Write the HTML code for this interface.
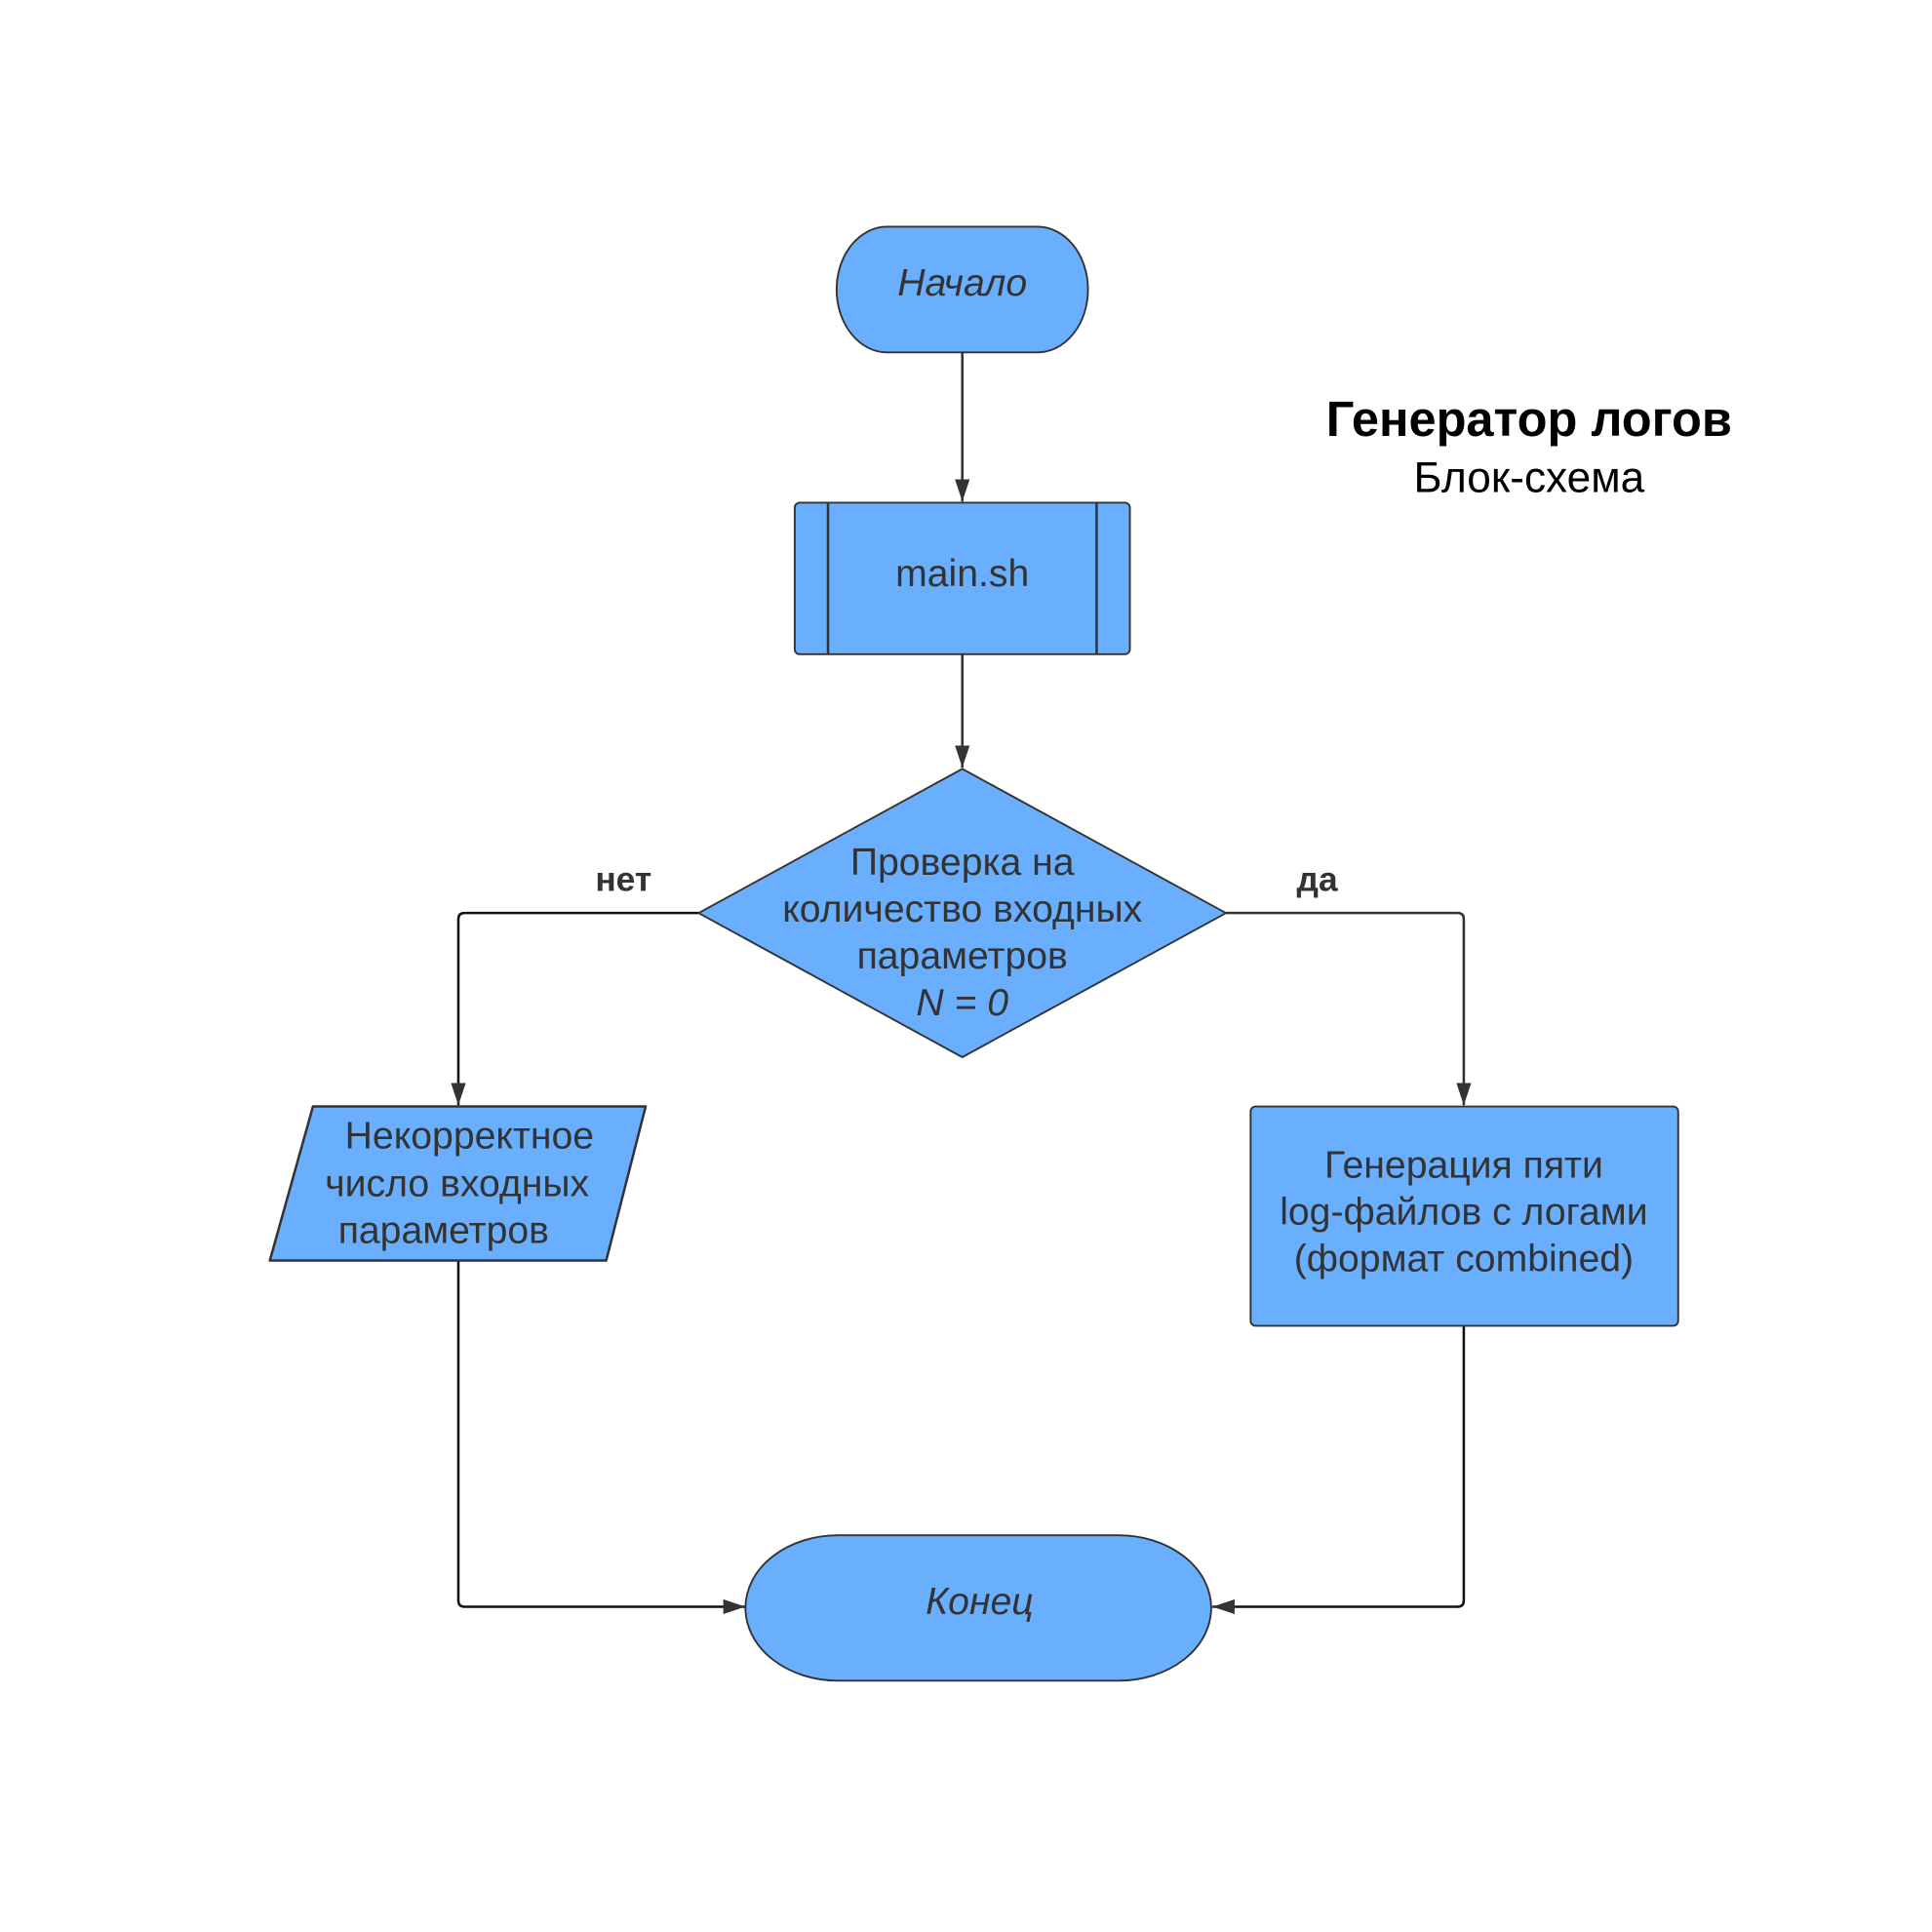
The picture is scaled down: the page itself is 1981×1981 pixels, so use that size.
<!DOCTYPE html>
<html><head><meta charset="utf-8"><style>
html,body{margin:0;padding:0;background:#fff}
svg{display:block}
text{font-family:"Liberation Sans",sans-serif;fill:#333;text-anchor:middle;dominant-baseline:central}
</style></head><body>
<svg width="1981" height="1981" viewBox="0 0 1568 1568" xmlns="http://www.w3.org/2000/svg">
<defs>
<marker id="a" markerWidth="18" markerHeight="12" refX="18" refY="6" orient="auto" markerUnits="userSpaceOnUse" viewBox="0 0 18 12">
<path d="M0,0 L18,6 L0,12 z" fill="#333"/>
</marker>
</defs>
<g fill="none" stroke="#333" stroke-width="2">
<path d="M781,286 V407" marker-end="url(#a)"/>
<path d="M781,531 V623" marker-end="url(#a)"/>
<path d="M567,741 H377 Q372,741 372,746 V897" marker-end="url(#a)" stroke="#111"/>
<path d="M995,741 H1183 Q1188,741 1188,746 V897" marker-end="url(#a)"/>
<path d="M372,1023 V1299 Q372,1304 377,1304 H605" marker-end="url(#a)" stroke="#111"/>
<path d="M1188,1076 V1299 Q1188,1304 1183,1304 H984" marker-end="url(#a)" stroke="#111"/>
</g>
<g fill="#6aaffe" stroke="#333" stroke-width="1.5">
<path d="M720,184 H842 A41,51 0 0 1 842,286 H720 A41,51 0 0 1 720,184 z"/>
<rect x="645" y="408" width="272" height="123" rx="4"/>
<line x1="672" y1="408" x2="672" y2="531" stroke-width="2"/>
<line x1="890" y1="408" x2="890" y2="531" stroke-width="2"/>
<path d="M781,624 L995,741 L781,858 L567,741 z" stroke-linejoin="round"/>
<path d="M254,898 H524 L492,1023 H219 z" stroke-linejoin="round" stroke-width="2"/>
<rect x="1015" y="898" width="347" height="178" rx="4"/>
<path d="M680,1246 H908 A75,59 0 0 1 908,1364 H680 A75,59 0 0 1 680,1246 z"/>
</g>
<g font-size="31">
<text x="781" y="230" font-style="italic">Начало</text>
<text x="781" y="466">main.sh</text>
<text x="781" y="700">Проверка на</text>
<text x="781" y="738">количество входных</text>
<text x="781" y="776">параметров</text>
<text x="781" y="814" font-style="italic">N = 0</text>
<text x="381" y="922">Некорректное</text>
<text x="371" y="961">число входных</text>
<text x="360" y="999">параметров</text>
<text x="1188" y="946">Генерация пяти</text>
<text x="1188" y="984">log-файлов с логами</text>
<text x="1188" y="1022">(формат combined)</text>
<text x="795" y="1300" font-style="italic">Конец</text>
</g>
<text x="506" y="714" font-size="28" font-weight="bold">нет</text>
<text x="1069" y="714" font-size="28" font-weight="bold">да</text>
<text x="1241" y="340" font-size="40" font-weight="bold" style="fill:#000">Генератор логов</text>
<text x="1241" y="388" font-size="35" style="fill:#000">Блок-схема</text>
</svg>
</body></html>
